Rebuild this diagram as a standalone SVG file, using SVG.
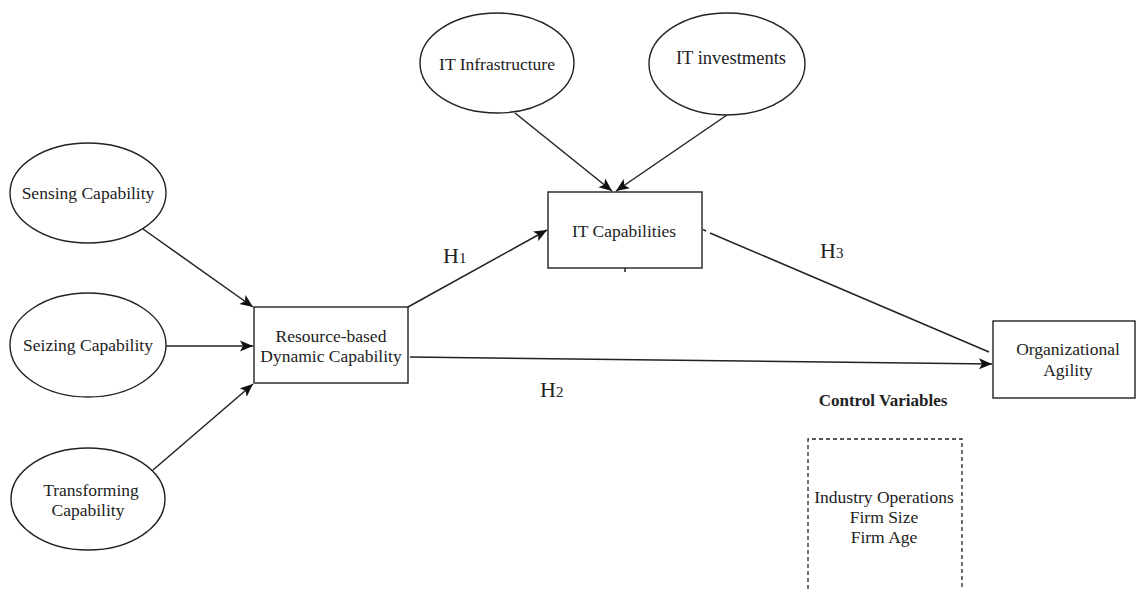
<svg xmlns="http://www.w3.org/2000/svg" width="1138" height="589" viewBox="0 0 1138 589">
<style>
.shape{fill:#fff;stroke:#222;stroke-width:1.4}
.dash{fill:none;stroke:#222;stroke-width:1.3;stroke-dasharray:4 3}
.t{font-family:"Liberation Serif","Times New Roman",serif;font-size:17.5px;fill:#222;text-anchor:middle}
.b{font-weight:bold;font-size:17px}
.h{font-family:"Liberation Serif","Times New Roman",serif;font-size:22px;fill:#222}
.sub{font-size:15px}
.c{stroke:#222;stroke-width:1.5;fill:none}
</style>
<defs>
<marker id="arr" markerUnits="userSpaceOnUse" markerWidth="14" markerHeight="12" viewBox="0 0 14 12" refX="13" refY="6" orient="auto">
<path d="M0,0.5 L13,6 L0,11.5 L3,6 Z" fill="#111"/>
</marker>
</defs>
<rect width="1138" height="589" fill="#fff"/>
<g id="connectors">
<line class="c" x1="143" y1="229" x2="253" y2="307" marker-end="url(#arr)"/>
<line class="c" x1="165" y1="346" x2="253" y2="346" marker-end="url(#arr)"/>
<line class="c" x1="153" y1="470" x2="253" y2="384" marker-end="url(#arr)"/>
<line class="c" x1="515" y1="113" x2="612" y2="191" marker-end="url(#arr)"/>
<line class="c" x1="727" y1="115" x2="616" y2="191" marker-end="url(#arr)"/>
<line class="c" x1="408" y1="307" x2="547" y2="230" marker-end="url(#arr)"/>
<line class="c" x1="710" y1="233" x2="989" y2="352"/>
<line class="c" x1="703" y1="229.5" x2="706" y2="231"/>
<line class="c" x1="625" y1="268" x2="625" y2="272"/>
<line class="c" x1="410" y1="357" x2="992" y2="364" marker-end="url(#arr)"/>
<text class="h" x="443" y="263">H<tspan class="sub">1</tspan></text>
<text class="h" x="540" y="397">H<tspan class="sub">2</tspan></text>
<text class="h" x="820" y="258">H<tspan class="sub">3</tspan></text>
</g>
<g id="sensing">
<ellipse class="shape" cx="88" cy="193" rx="78" ry="50"/>
<text class="t" x="88" y="199">Sensing Capability</text>
</g>
<g id="seizing">
<ellipse class="shape" cx="88" cy="345" rx="78" ry="52"/>
<text class="t" x="88" y="351">Seizing Capability</text>
</g>
<g id="transforming">
<ellipse class="shape" cx="88" cy="499" rx="77" ry="51"/>
<text class="t" x="91" y="496">Transforming</text>
<text class="t" x="88" y="516">Capability</text>
</g>
<g id="rdc">
<rect class="shape" x="254" y="307" width="154" height="76"/>
<text class="t" x="331" y="342">Resource-based</text>
<text class="t" x="331" y="362">Dynamic Capability</text>
</g>
<g id="it-infrastructure">
<ellipse class="shape" cx="497" cy="63" rx="77" ry="50"/>
<text class="t" x="497" y="70">IT Infrastructure</text>
</g>
<g id="it-investments">
<ellipse class="shape" cx="727" cy="64" rx="78" ry="51"/>
<text class="t" x="731" y="64" style="font-size:18.5px">IT investments</text>
</g>
<g id="it-capabilities">
<rect class="shape" x="548" y="192" width="154" height="76"/>
<text class="t" x="624" y="237">IT Capabilities</text>
</g>
<g id="agility">
<rect class="shape" x="993" y="321" width="142" height="77"/>
<text class="t" x="1068" y="355">Organizational</text>
<text class="t" x="1068" y="376">Agility</text>
</g>
<g id="control-variables">
<text class="t b" x="883" y="406">Control Variables</text>
<path class="dash" d="M808,589 V439 H962 V589"/>
<text class="t" x="884" y="503">Industry Operations</text>
<text class="t" x="884" y="523">Firm Size</text>
<text class="t" x="884" y="543">Firm Age</text>
</g>
</svg>
